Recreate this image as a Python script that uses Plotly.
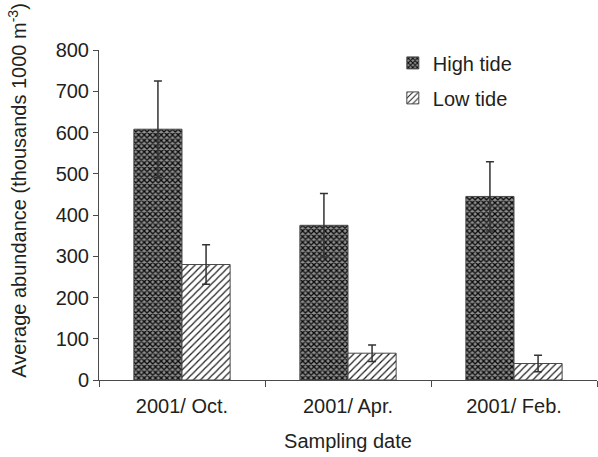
import plotly.graph_objects as go

# Sampling dates and mean abundance (thousands per 1000 m^3) with error ranges
dates = ["2001/ Oct.", "2001/ Apr.", "2001/ Feb."]
high_tide = [608, 375, 445]
high_tide_err = [117, 77, 84]
low_tide = [280, 65, 40]
low_tide_err = [48, 20, 20]
y_ticks = [0, 100, 200, 300, 400, 500, 600, 700, 800]

TEXT = "#231f20"
LINE = "#4a4a4a"
FONT = "Liberation Sans, Arial, sans-serif"

fig = go.Figure()

fig.add_trace(go.Bar(
    x=dates, y=high_tide, name="High tide", legendgroup="high",
    marker=dict(
        color="#6e6e6e",
        line=dict(color=LINE, width=1),
        pattern=dict(shape="x", fgcolor="#0a0a0a", bgcolor="#8f8f8f",
                     size=4, solidity=0.55, fillmode="replace"),
    ),
    error_y=dict(type="data", array=high_tide_err, visible=True,
                 color="#333333", thickness=1.5, width=4),
))

fig.add_trace(go.Bar(
    x=dates, y=low_tide, name="Low tide", legendgroup="low",
    marker=dict(
        color="white",
        line=dict(color=LINE, width=1),
        pattern=dict(shape="/", fgcolor="#222222", bgcolor="white",
                     size=5, solidity=0.25, fillmode="replace"),
    ),
    error_y=dict(type="data", array=low_tide_err, visible=True,
                 color="#333333", thickness=1.5, width=4),
))

fig.update_layout(
    width=598, height=457,
    margin=dict(l=99, r=1, t=50, b=77),
    paper_bgcolor="white", plot_bgcolor="white",
    font=dict(family=FONT, size=20, color=TEXT),
    barmode="group", bargap=0.42, bargroupgap=0,
    showlegend=True,
    legend=dict(x=0.59, y=1.02, xanchor="left", yanchor="top",
                bgcolor="rgba(0,0,0,0)", font=dict(size=20, color=TEXT),
                tracegroupgap=6),
    xaxis=dict(
        title=dict(text="Sampling date", standoff=17,
                   font=dict(size=20, color=TEXT)),
        showline=True, linecolor=LINE, linewidth=1,
        ticks="outside", tickson="boundaries", ticklen=6,
        tickcolor=LINE, showgrid=False, zeroline=False,
        ticklabelstandoff=8,
    ),
    yaxis=dict(
        range=[0, 800], tickvals=y_ticks,
        showline=True, linecolor=LINE, linewidth=1,
        ticks="outside", ticklen=5, tickcolor=LINE,
        showgrid=False, zeroline=False,
    ),
    annotations=[dict(
        text="Average abundance (thousands 1000 m<sup>-3</sup>)",
        xref="paper", yref="paper", x=-0.163, y=0.576,
        xanchor="center", yanchor="middle", textangle=-90,
        showarrow=False, font=dict(size=20, color=TEXT),
    )],
)

fig.write_html("out.html")
